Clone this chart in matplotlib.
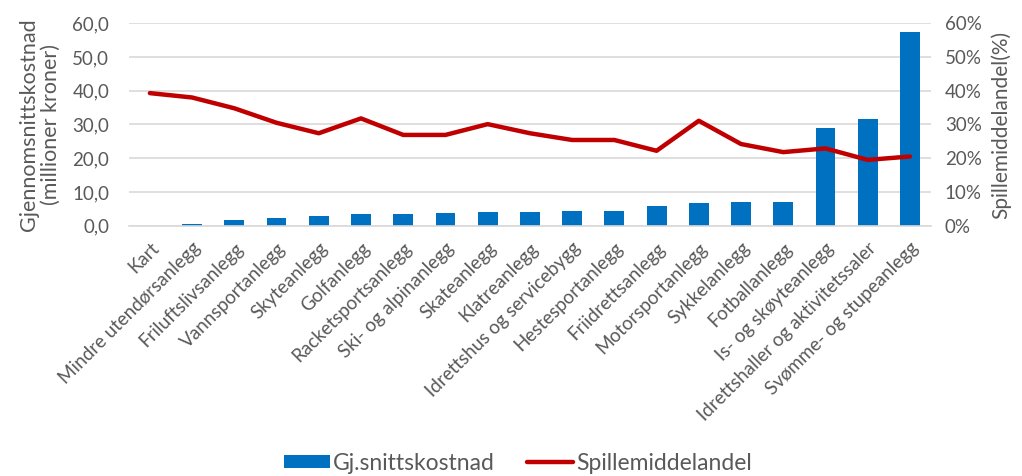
import matplotlib
matplotlib.use('Agg')
import matplotlib.pyplot as plt
from matplotlib.ticker import FuncFormatter

plt.rcParams['font.family'] = ['Lato', 'DejaVu Sans']

categories = ['Kart', 'Mindre utendørsanlegg', 'Friluftslivsanlegg', 'Vannsportanlegg',
              'Skyteanlegg', 'Golfanlegg', 'Racketsportsanlegg', 'Ski- og alpinanlegg',
              'Skateanlegg', 'Klatreanlegg', 'Idrettshus og servicebygg', 'Hestesportanlegg',
              'Friidrettsanlegg', 'Motorsportanlegg', 'Sykkelanlegg', 'Fotballanlegg',
              'Is- og skøyteanlegg', 'Idrettshaller og aktivitetssaler', 'Svømme- og stupeanlegg']
kostnad = [0.0, 0.6, 1.7, 2.2, 2.9, 3.5, 3.5, 3.7, 3.9, 4.1, 4.4, 4.4, 5.8, 6.8, 7.1, 7.1,
           28.9, 31.6, 57.5]
andel = [39.3, 38.0, 34.8, 30.5, 27.4, 31.8, 26.9, 26.9, 30.1, 27.4, 25.4, 25.4, 22.2,
         31.1, 24.2, 21.8, 22.9, 19.5, 20.5]

blue = '#0070C0'
red = '#C00000'
grey = '#595959'
gridc = '#D9D9D9'

fig = plt.figure(figsize=(10.22, 4.76), dpi=100)
ax = fig.add_axes([0.126, 0.526, 0.785, 0.425])
ax2 = ax.twinx()

x = list(range(len(categories)))
ax.bar(x, kostnad, width=0.47, color=blue, label='Gj.snittskostnad', zorder=2)
ax2.plot(x, andel, color=red, linewidth=3.2, label='Spillemiddelandel', zorder=3,
         solid_capstyle='round')

ax.set_xlim(-0.5, len(categories) - 0.5)
ax.set_ylim(0, 60)
ax2.set_ylim(0, 60)
ax.set_yticks(range(0, 61, 10))
ax2.set_yticks(range(0, 61, 10))
ax.yaxis.set_major_formatter(FuncFormatter(lambda v, p: f'{v:.1f}'.replace('.', ',')))
ax2.yaxis.set_major_formatter(FuncFormatter(lambda v, p: f'{v:.0f}%'))
ax.grid(axis='y', color=gridc, linewidth=1.2, zorder=0)
ax.set_axisbelow(True)

for a in (ax, ax2):
    for s in a.spines.values():
        s.set_visible(False)
    a.tick_params(length=0, labelsize=13.5, labelcolor=grey)
ax.spines['bottom'].set_visible(True)
ax.spines['bottom'].set_color(gridc)
ax.spines['bottom'].set_linewidth(1.2)

ax.set_xticks(x)
ax.set_xticklabels(categories, rotation=45, ha='right', rotation_mode='anchor',
                   fontsize=13.5, color=grey)
ax.tick_params(axis='x', pad=10)
ax.tick_params(axis='y', pad=14)
ax2.tick_params(axis='y', pad=10)

ax.set_ylabel('Gjennomsnittskostnad\n(millioner kroner)', fontsize=15.5, color=grey,
              linespacing=1.15, labelpad=8)
ax2.set_ylabel('Spillemiddelandel(%)', fontsize=15, color=grey, labelpad=6)

h1, l1 = ax.get_legend_handles_labels()
h2, l2 = ax2.get_legend_handles_labels()
fig.legend(h1 + h2, l1 + l2, loc='center', bbox_to_anchor=(0.507, 0.027), ncol=2,
           frameon=False, fontsize=16.5, labelcolor=grey, handlelength=2.0,
           handletextpad=0.15, columnspacing=1.4, handleheight=0.45)

fig.savefig('out.png', dpi=100)
